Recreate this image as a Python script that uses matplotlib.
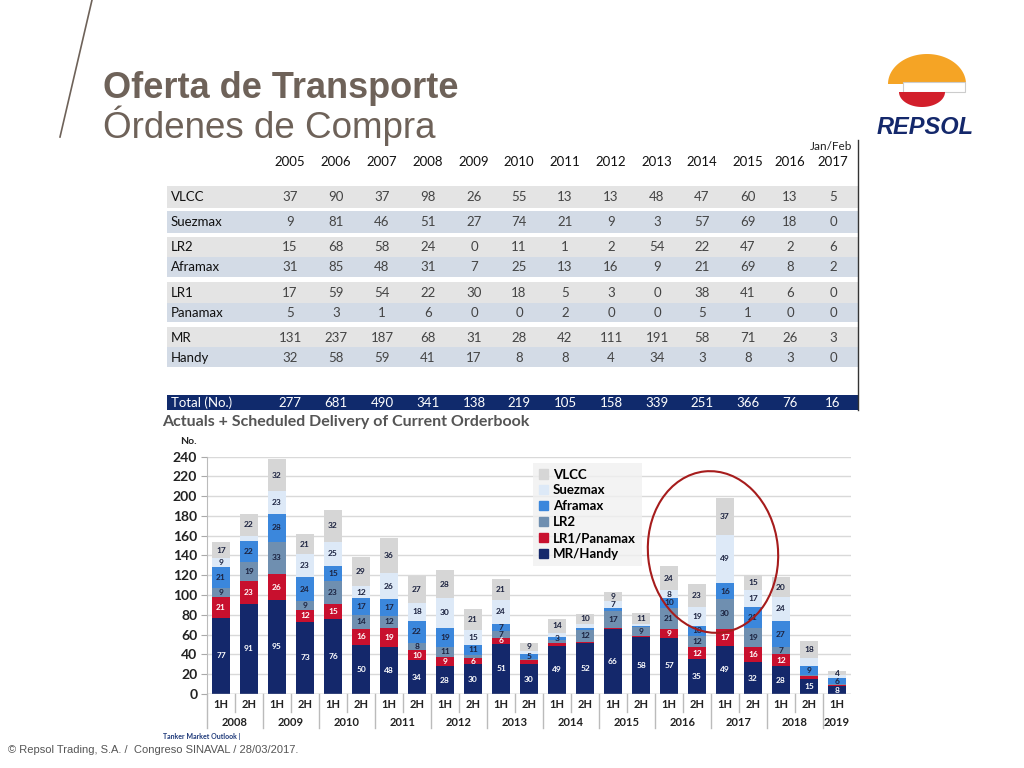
import numpy as np
import matplotlib
matplotlib.use('Agg')
import matplotlib.pyplot as plt
from matplotlib.patches import Rectangle, Ellipse, Patch, Polygon

# ---- orderbook table data ----
tbl_years = ['2005', '2006', '2007', '2008', '2009', '2010', '2011', '2012',
             '2013', '2014', '2015', '2016', '2017']
tbl_rows = ['VLCC', 'Suezmax', 'LR2', 'Aframax', 'LR1', 'Panamax', 'MR', 'Handy']
tbl_vlcc = [37, 90, 37, 98, 26, 55, 13, 13, 48, 47, 60, 13, 5]
tbl_suez = [9, 81, 46, 51, 27, 74, 21, 9, 3, 57, 69, 18, 0]
tbl_lr2 = [15, 68, 58, 24, 0, 11, 1, 2, 54, 22, 47, 2, 6]
tbl_afra = [31, 85, 48, 31, 7, 25, 13, 16, 9, 21, 69, 8, 2]
tbl_lr1 = [17, 59, 54, 22, 30, 18, 5, 3, 0, 38, 41, 6, 0]
tbl_pana = [5, 3, 1, 6, 0, 0, 2, 0, 0, 5, 1, 0, 0]
tbl_mr = [131, 237, 187, 68, 31, 28, 42, 111, 191, 58, 71, 26, 3]
tbl_handy = [32, 58, 59, 41, 17, 8, 8, 4, 34, 3, 8, 3, 0]
tbl_total = [277, 681, 490, 341, 138, 219, 105, 158, 339, 251, 366, 76, 16]

# ---- delivery chart data (half years) ----
halves = ['1H', '2H'] * 11 + ['1H']
years = ['2008', '2009', '2010', '2011', '2012', '2013', '2014', '2015',
         '2016', '2017', '2018', '2019']
mr = [77, 91, 95, 73, 76, 50, 48, 34, 28, 30, 51, 30, 49, 52, 66, 58, 57, 35, 49, 32, 28, 15, 8]
lr1 = [21, 23, 26, 12, 15, 16, 19, 10, 9, 6, 6, 4, 3, 1, 1, 1, 9, 12, 17, 16, 12, 3, 1]
lr2 = [9, 19, 33, 9, 23, 14, 12, 8, 11, 3, 7, 1, 3, 12, 17, 9, 21, 12, 30, 19, 7, 1, 1]
afra = [21, 22, 28, 24, 15, 17, 17, 22, 19, 11, 7, 5, 3, 2, 3, 1, 10, 10, 16, 21, 27, 9, 6]
suez = [9, 5, 23, 23, 25, 12, 26, 18, 30, 15, 24, 3, 4, 4, 7, 2, 8, 19, 49, 17, 24, 8, 3]
vlcc = [17, 22, 32, 21, 32, 29, 36, 27, 28, 21, 21, 9, 14, 10, 9, 11, 24, 23, 37, 15, 20, 18, 4]

series = [('MR/Handy', mr, '#14286b', 'white'),
          ('LR1/Panamax', lr1, '#c8102e', 'white'),
          ('LR2', lr2, '#6f8fb0', '#1c2340'),
          ('Aframax', afra, '#3b87dc', '#1c2340'),
          ('Suezmax', suez, '#dde9f7', '#1c2340'),
          ('VLCC', vlcc, '#d6d6d6', '#1c2340')]
force_label = {(12, 'Aframax'), (22, 'VLCC')}
skip_label = {(21, 'Suezmax'), (1, 'Suezmax')}

W, H = 1024, 768
fig = plt.figure(figsize=(10.24, 7.68), dpi=100)

# background overlay in pixel coordinates
bg = fig.add_axes([0, 0, 1, 1], zorder=0)
bg.set_xlim(0, W)
bg.set_ylim(H, 0)
bg.axis('off')

# title block
bg.plot([92, 60], [0, 137], color='#6e6259', lw=1.2)
bg.text(103, 88, 'Oferta de Transporte', fontsize=26, fontweight='bold',
        color='#6e6259', family='Liberation Sans', va='center', ha='left')
bg.text(103, 126, 'Órdenes de Compra', fontsize=26.5, color='#6e6259',
        family='Liberation Sans', va='center', ha='left')

# Repsol logo (rough)
t = np.linspace(0, np.pi, 60)
bg.add_patch(Polygon(np.c_[927 + 39 * np.cos(t), 84 - 30 * np.sin(t)],
                     closed=True, color='#f5a425', lw=0))
bg.add_patch(Rectangle((903, 82), 62, 10, facecolor='white', edgecolor='#cccccc', lw=0.8))
bg.add_patch(Polygon(np.c_[922 + 23 * np.cos(t), 92 + 15 * np.sin(t)],
                     closed=True, color='#d21f2b', lw=0))
bg.text(925, 128, 'REPSOL', fontsize=17, fontweight='bold', style='italic',
        color='#14286b', family='Liberation Sans', ha='center', va='center')

# table
col_x = [290, 336, 382, 428, 474, 519, 565, 611, 657, 702, 748, 790, 833]
row_y = [197, 222, 247, 267, 293, 313, 338, 358]
band = [(186, 208), (211, 233), (237, 257), (257, 277),
        (282, 303), (303, 322), (327, 347), (347, 367)]
tbl_vals = [tbl_vlcc, tbl_suez, tbl_lr2, tbl_afra, tbl_lr1, tbl_pana, tbl_mr, tbl_handy]
for i, (y0, y1) in enumerate(band):
    bg.add_patch(Rectangle((167, y0), 691, y1 - y0,
                           color='#e4e4e4' if i % 2 == 0 else '#d3dbe6', lw=0))
bg.add_patch(Rectangle((167, 395), 691, 15, color='#102a6c', lw=0))
bg.plot([858, 858], [140, 410], color='#333333', lw=1)
bg.text(831, 146, 'Jan/Feb', fontsize=8.5, family='Lato', ha='center', va='center', color='#222222')
for x, yr in zip(col_x, tbl_years):
    bg.text(x, 162, yr, fontsize=9.5, family='Lato', ha='center', va='center', color='#111111')
for name, y, vals in zip(tbl_rows, row_y, tbl_vals):
    bg.text(171, y, name, fontsize=9.5, family='Lato', ha='left', va='center', color='#111111')
    for x, v in zip(col_x, vals):
        bg.text(x, y, str(v), fontsize=9.5, family='Lato', ha='center', va='center', color='#444444')
bg.text(171, 403, 'Total (No.)', fontsize=9.5, family='Lato', ha='left', va='center', color='white')
for x, v in zip(col_x, tbl_total):
    bg.text(x, 403, str(v), fontsize=9.5, family='Lato', ha='center', va='center', color='white')

bg.text(162, 422, 'Actuals + Scheduled Delivery of Current Orderbook', fontsize=11.5,
        fontweight='bold', family='Lato', color='#555555', ha='left', va='center')
bg.text(180, 441, 'No.', fontsize=7.5, fontweight='bold', family='Lato', color='#222222',
        ha='left', va='center')
bg.text(163, 736, 'Tanker Market Outlook |', fontsize=5, fontweight='bold', family='Lato',
        color='#1f3a7a', ha='left', va='center')
bg.text(8, 750, '© Repsol Trading, S.A. /  Congreso SINAVAL / 28/03/2017.', fontsize=8,
        family='Liberation Sans', color='#555555', ha='left', va='center')

# stacked bar chart
ax = fig.add_axes([207 / W, 1 - 694 / H, 644 / W, 237.5 / H], zorder=2)
ax.patch.set_alpha(0)
x = np.arange(len(mr))
bottom = np.zeros(len(mr))
for name, vals, col, tcol in series:
    vals = np.array(vals)
    ax.bar(x, vals, 0.65, bottom=bottom, color=col, zorder=3)
    for i, v in enumerate(vals):
        if (v >= 5 or (i, name) in force_label) and (i, name) not in skip_label:
            ax.text(i, bottom[i] + v / 2, str(v), fontsize=6, fontweight='bold',
                    family='Lato', color=tcol, ha='center', va='center', zorder=4)
    bottom += vals

ax.set_xlim(-0.5, len(mr) - 0.5)
ax.set_ylim(0, 240)
ax.set_yticks(range(0, 241, 20))
ax.tick_params(axis='y', length=4, color='#aaaaaa', labelsize=10, labelcolor='#222222', pad=3)
for lab in ax.get_yticklabels():
    lab.set_fontweight('bold')
    lab.set_family('Lato')
ax.set_xticks([])
ax.grid(axis='y', color='#d9d9d9', lw=1, zorder=0)
for s in ['top', 'right', 'bottom']:
    ax.spines[s].set_visible(False)
ax.spines['left'].set_color('#bbbbbb')
ax.axhline(0, color='#bbbbbb', lw=1, zorder=5)

tr = ax.get_xaxis_transform()
px = 1 / 237.5
for i, h in enumerate(halves):
    ax.text(i, -11 * px, h, transform=tr, fontsize=8, fontweight='bold', family='Lato',
            color='#222222', ha='center', va='center')
    edge = i - 0.5
    long = (h == '1H')
    ax.plot([edge, edge], [0, -(34 if long else 18) * px], transform=tr, color='#bbbbbb',
            lw=1, clip_on=False)
for j, yr in enumerate(years):
    xc = 2 * j + 0.5 if j < len(years) - 1 else 2 * j
    ax.text(xc, -28 * px, yr, transform=tr, fontsize=8, fontweight='bold', family='Lato',
            color='#222222', ha='center', va='center')

handles = [Patch(color=c, label=n) for n, _, c, _ in series[::-1]]
leg = fig.legend(handles=handles, loc='upper left', bbox_to_anchor=(526 / W, 1 - 456 / H),
                 frameon=True, fancybox=False, handlelength=0.7, handleheight=0.7,
                 handletextpad=0.4, labelspacing=0.3, borderpad=0.45,
                 prop={'family': 'Lato', 'weight': 'bold', 'size': 9.5})
leg.get_frame().set_facecolor('#f0f0f0')
leg.get_frame().set_edgecolor('none')
leg.set_zorder(6)

# highlight ring
fg = fig.add_axes([0, 0, 1, 1], zorder=8)
fg.set_xlim(0, W)
fg.set_ylim(H, 0)
fg.axis('off')
fg.patch.set_alpha(0)
fg.add_patch(Ellipse((713, 552), 130, 162, angle=-6, fill=False, edgecolor='#a61c1c', lw=1.5))

fig.savefig('out.png', dpi=100, facecolor='white')
